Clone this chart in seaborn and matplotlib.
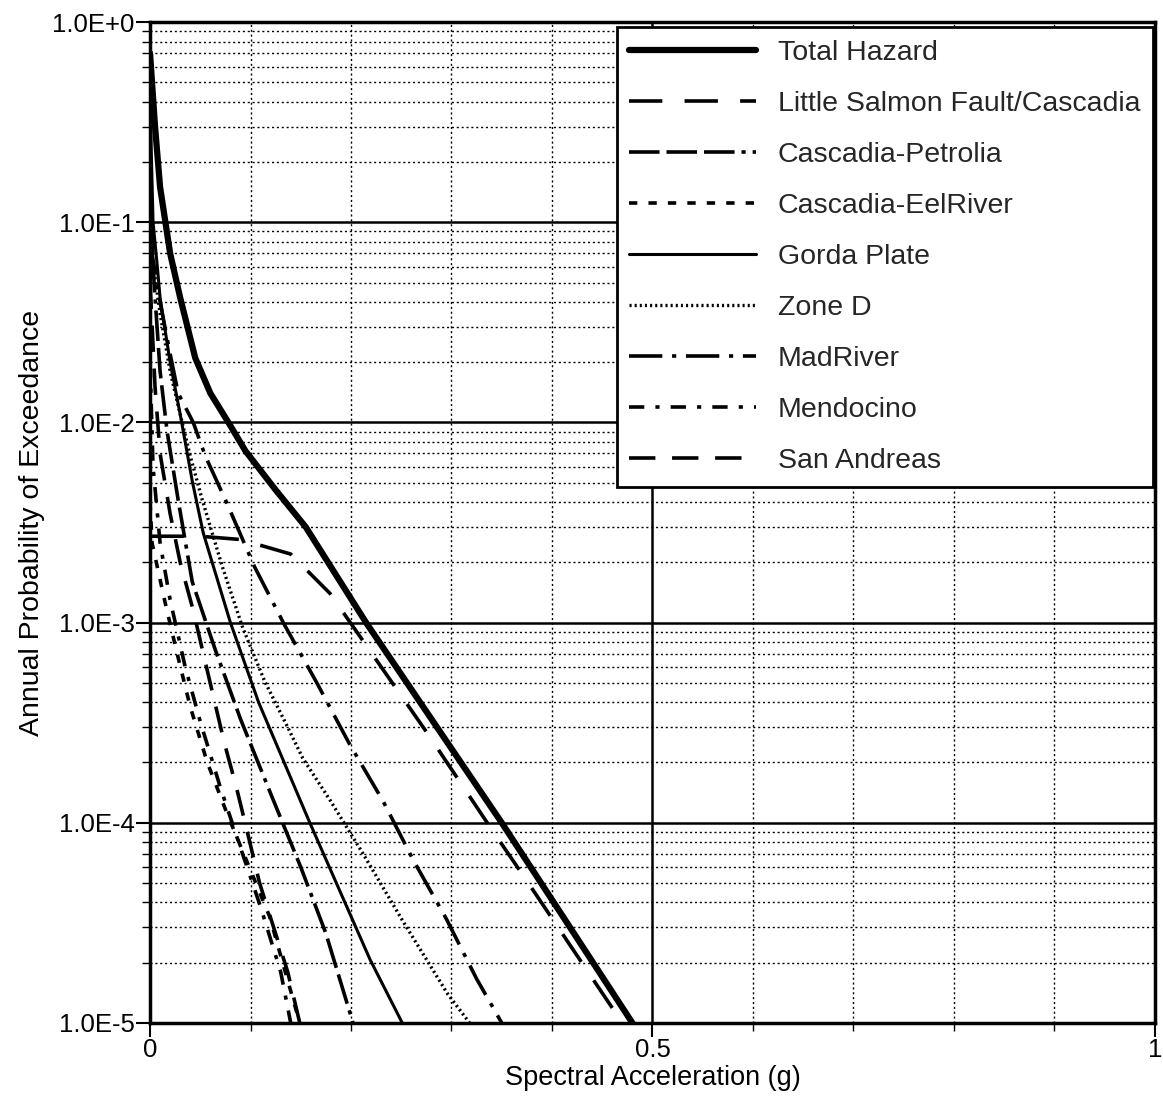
import numpy as np
import matplotlib
matplotlib.use("Agg")
import matplotlib.pyplot as plt
import matplotlib.ticker as mticker
import seaborn as sns

# --- data (Sa in g, annual probability) ---
total_x = [0, 0.005, 0.01, 0.02, 0.03, 0.045, 0.06, 0.078, 0.095, 0.125, 0.155, 0.215, 0.35, 0.48]
total_y = [0.7, 0.3, 0.15, 0.07, 0.042, 0.021, 0.014, 0.01, 0.0072, 0.0046, 0.003, 1e-3, 1e-4, 1e-5]

salmon_x = [0, 0.05, 0.09, 0.14, 0.179, 0.212, 0.276, 0.341, 0.373, 0.47]
salmon_y = [0.0027, 0.0027, 0.0026, 0.0022, 0.0014, 8.1e-4, 2.8e-4, 9.1e-5, 5.3e-5, 1e-5]

petrolia_x = [0, 0.004, 0.01, 0.017, 0.028, 0.042, 0.065, 0.09, 0.12, 0.15, 0.175, 0.202]
petrolia_y = [0.15, 0.05, 0.018, 0.009, 0.0041, 1.6e-3, 7.3e-4, 3.3e-4, 1.4e-4, 6e-5, 2.8e-5, 1e-5]

eel_x = [0, 0.002, 0.015, 0.027, 0.04, 0.057, 0.077, 0.097, 0.119, 0.149]
eel_y = [0.004, 0.0025, 1.26e-3, 7e-4, 3.8e-4, 2e-4, 1.1e-4, 6.3e-5, 3.4e-5, 1e-5]

gorda_x = [0, 0.003, 0.007, 0.01, 0.02, 0.03, 0.042, 0.053, 0.08, 0.108, 0.159, 0.219, 0.251]
gorda_y = [0.4, 0.1, 0.062, 0.042, 0.02, 0.011, 0.0051, 0.0028, 1e-3, 4e-4, 1e-4, 2.07e-5, 1e-5]

zoned_x = [0, 0.01, 0.02, 0.03, 0.04, 0.052, 0.072, 0.092, 0.114, 0.137, 0.152, 0.179, 0.212, 0.252, 0.296, 0.318]
zoned_y = [0.08, 0.035, 0.018, 0.011, 0.0068, 0.0041, 0.0019, 9.5e-4, 5.1e-4, 3e-4, 2.1e-4, 1.3e-4, 7e-5, 3.2e-5, 1.4e-5, 1e-5]

mad_x = [0, 0.01, 0.02, 0.028, 0.043, 0.055, 0.076, 0.104, 0.134, 0.166, 0.198, 0.232, 0.262, 0.295, 0.325, 0.35]
mad_y = [0.08, 0.04, 0.022, 0.014, 0.01, 0.0068, 0.004, 0.0019, 9.7e-4, 5e-4, 2.5e-4, 1.28e-4, 6.5e-5, 3.3e-5, 1.66e-5, 1e-5]

mendo_x = [0, 0.003, 0.01, 0.02, 0.035, 0.05, 0.07, 0.09, 0.11, 0.13, 0.14]
mendo_y = [0.02, 0.006, 0.0025, 1.3e-3, 6e-4, 3.2e-4, 1.5e-4, 7.5e-5, 3.8e-5, 1.8e-5, 1e-5]

sanand_x = [0, 0.005, 0.01, 0.02, 0.03, 0.043, 0.053, 0.074, 0.086, 0.098, 0.109, 0.123, 0.137, 0.149]
sanand_y = [0.05, 0.015, 0.007, 0.0035, 0.002, 1.15e-3, 7e-4, 2.5e-4, 1.5e-4, 8.5e-5, 5e-5, 3e-5, 1.8e-5, 1e-5]

labels = ["Total Hazard", "Little Salmon Fault/Cascadia", "Cascadia-Petrolia",
          "Cascadia-EelRiver", "Gorda Plate", "Zone D", "MadRiver",
          "Mendocino", "San Andreas"]

sns.set_theme(style="white")
plt.rcParams["font.family"] = ["Liberation Sans", "DejaVu Sans"]
plt.rcParams["lines.scale_dashes"] = False

fig, ax = plt.subplots(figsize=(11.63, 11.07), dpi=100)
fig.subplots_adjust(left=0.129, right=0.993, bottom=0.076, top=0.980)

# (x, y, linewidth, linestyle) in legend order
curves = [
    (total_x, total_y, 4.5, "-"),
    (salmon_x, salmon_y, 2.6, (0, (24, 16))),
    (petrolia_x, petrolia_y, 2.6, (0, (22, 5, 22, 5, 22, 5, 3, 5))),
    (eel_x, eel_y, 2.6, (0, (6, 8))),
    (gorda_x, gorda_y, 2.2, "-"),
    (zoned_x, zoned_y, 2.4, (0, (1.5, 2.2))),
    (mad_x, mad_y, 2.6, (0, (24, 7, 3, 7))),
    (mendo_x, mendo_y, 2.6, (0, (11, 8, 3, 8))),
    (sanand_x, sanand_y, 2.6, (0, (19, 12))),
]

for (xs, ys, lw, ls), lab in zip(curves, labels):
    sns.lineplot(x=xs, y=ys, ax=ax, color="black", linewidth=lw,
                 linestyle=ls, label=lab, sort=False, estimator=None)

ax.set_yscale("log")
ax.set_xlim(0, 1)
ax.set_ylim(1e-5, 1)

ax.yaxis.set_major_locator(mticker.LogLocator(base=10, numticks=10))
ax.yaxis.set_minor_locator(mticker.LogLocator(base=10, subs=np.arange(2, 10), numticks=20))
ax.yaxis.set_minor_formatter(mticker.NullFormatter())
ax.yaxis.set_major_formatter(mticker.FuncFormatter(
    lambda v, p: f"1.0E{int(round(np.log10(v))):+d}"))
ax.xaxis.set_major_locator(mticker.MultipleLocator(0.5))
ax.xaxis.set_minor_locator(mticker.MultipleLocator(0.1))
ax.xaxis.set_major_formatter(mticker.FuncFormatter(lambda v, p: f"{v:g}"))

ax.grid(which="major", color="black", linewidth=1.8, linestyle="-")
ax.grid(which="minor", color="black", linewidth=1.0, linestyle=(0, (1.5, 2)))
ax.set_axisbelow(True)

ax.tick_params(which="major", bottom=True, left=True, direction="out",
               length=10, width=1.5, color="black", labelsize=18.5, labelcolor="black",
               pad=1)
ax.tick_params(which="minor", bottom=True, left=True, direction="out",
               length=6, width=1.0, color="black")
for sp in ax.spines.values():
    sp.set_color("black")
    sp.set_linewidth(2.5)

ax.set_xlabel("Spectral Acceleration (g)", fontsize=19.5, color="black", labelpad=2)
ax.set_ylabel("Annual Probability of Exceedance", fontsize=20.5, color="black", labelpad=5)

leg = ax.legend(loc="upper right", bbox_to_anchor=(0.998, 0.995), fontsize=20.5,
                handlelength=4.45, handletextpad=0.75, labelspacing=0.88,
                borderpad=0.45, borderaxespad=0, frameon=True, fancybox=False,
                framealpha=1)
leg.get_frame().set_edgecolor("black")
leg.get_frame().set_linewidth(2.0)
leg.set_zorder(10)

plt.savefig("out.png", dpi=100)
